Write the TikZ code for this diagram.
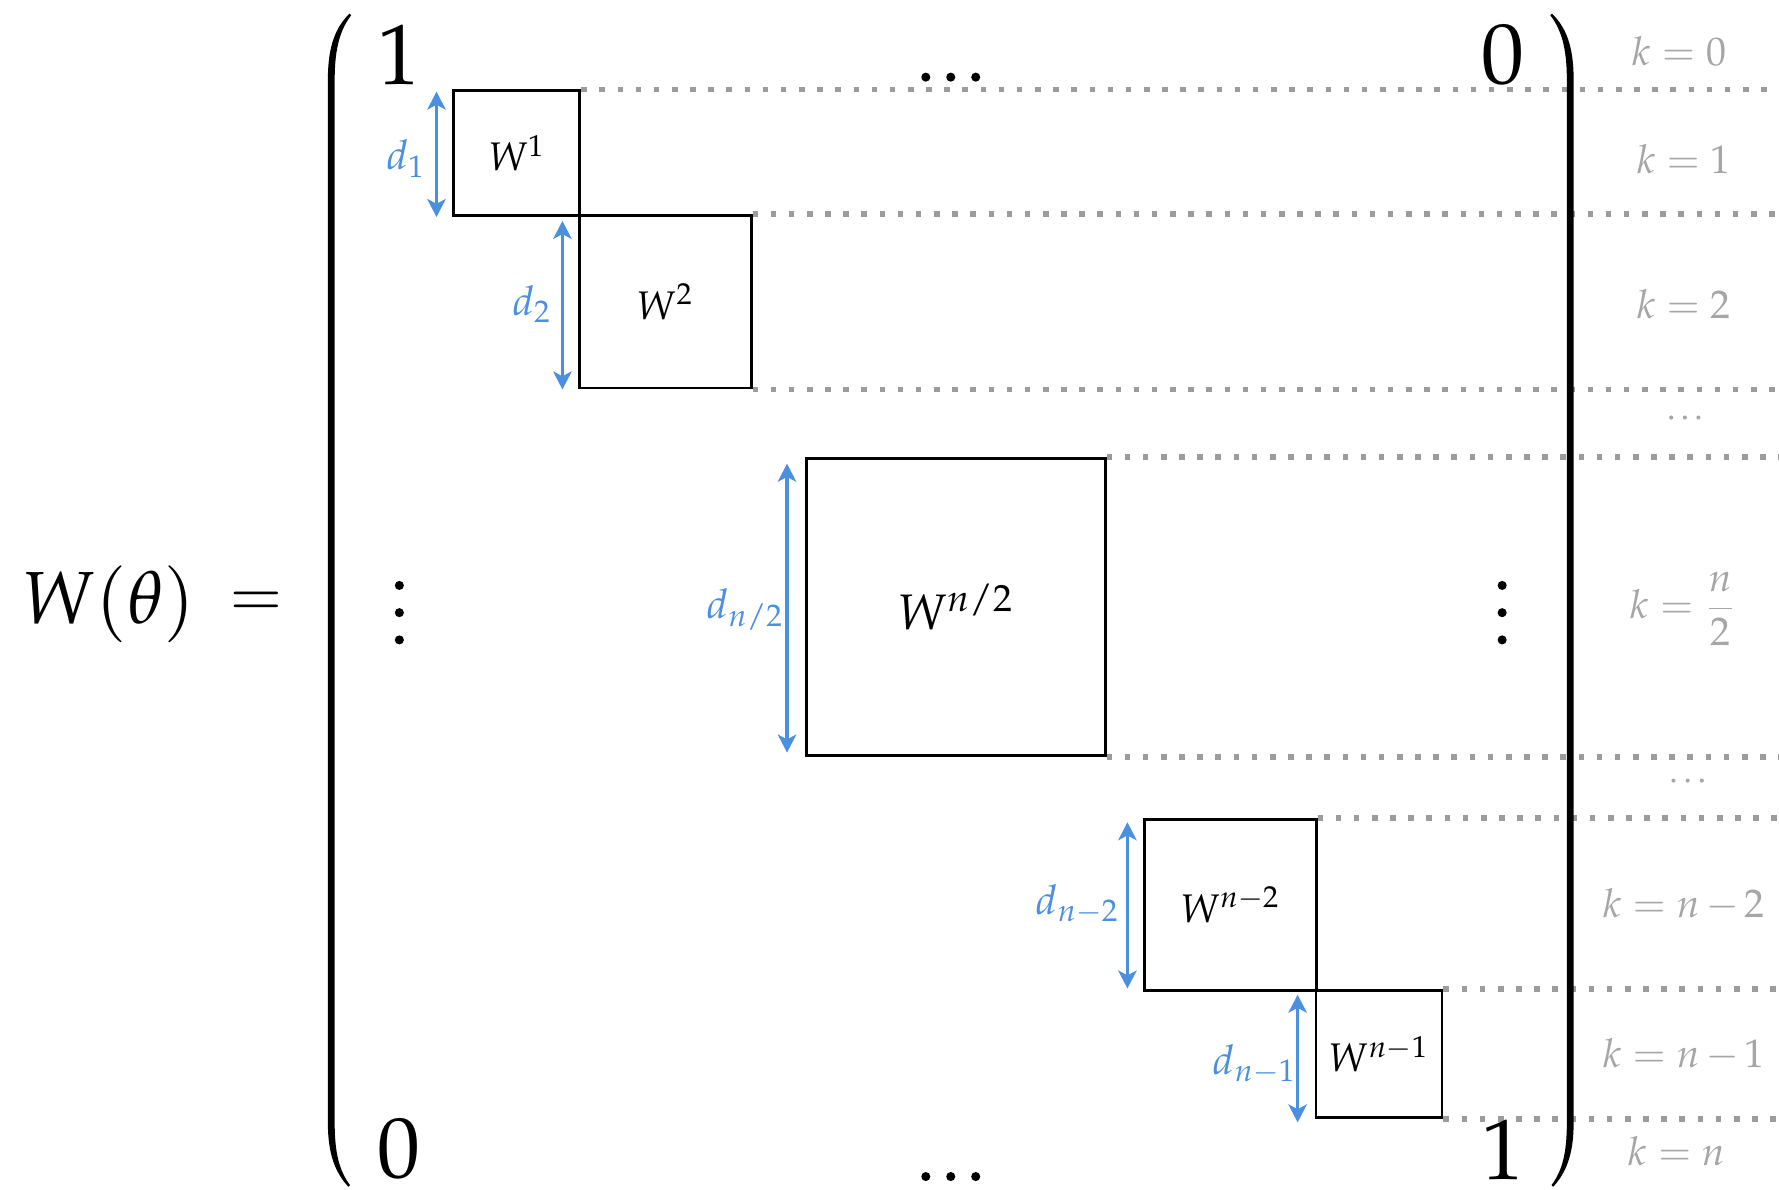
\documentclass[tikz,border=0pt]{standalone}
\usepackage{amsmath}
\usepackage{mathpazo}
\usetikzlibrary{arrows.meta}
\definecolor{dblue}{HTML}{4A8FE0}
\definecolor{dotgray}{HTML}{9C9C9C}
\definecolor{lblgray}{HTML}{A6A6A6}
\begin{document}
\begin{tikzpicture}[x=0.01cm,y=-0.01cm,
  wbox/.style={draw=black,line width=0.7pt,inner sep=0pt,font=\fontsize{10}{12}\selectfont},
  bigtxt/.style={inner sep=0pt,font=\fontsize{21.5}{25}\selectfont},
  klabel/.style={text=lblgray,inner sep=0pt,font=\fontsize{10}{12}\selectfont},
  dlabel/.style={text=dblue,inner sep=0pt,font=\fontsize{10.3}{12}\selectfont},
  dotline/.style={draw=dotgray,line width=1.4pt,dash pattern=on 1.4pt off 3.15pt},
  darrow/.style={draw=dblue,line width=0.8pt,{Stealth[length=4.5pt,width=4.6pt,inset=1.2pt]}-{Stealth[length=4.5pt,width=4.6pt,inset=1.2pt]}},
  bdot/.style={fill=black},
  gdot/.style={fill=lblgray}]
\useasboundingbox (0,0) rectangle (1568,1048);
\coordinate (edge) at (1568,0);

% blocks
\node[wbox,minimum width=1.11cm,minimum height=1.10cm] (w1) at (455.5,135) {$W^1$};
\node[wbox,minimum width=1.51cm,minimum height=1.52cm] (w2) at (586.5,266) {$W^2$};
\node[wbox,minimum width=2.63cm,minimum height=2.62cm,font=\fontsize{12.5}{15}\selectfont] (wh) at (842.5,535) {$W^{n/2}$};
\node[wbox,minimum width=1.51cm,minimum height=1.51cm] (wm2) at (1084.5,797.5) {$W^{n-2}$};
\node[wbox,minimum width=1.11cm,minimum height=1.12cm] (wm1) at (1215.5,929) {$W^{n-1}$};

% dotted guide lines
\draw[dotline] (w1.north east) -- (w1.north east -| edge);
\draw[dotline] (w2.north east) -- (w2.north east -| edge);
\draw[dotline] (w2.south east) -- (w2.south east -| edge);
\draw[dotline] (wh.north east) -- (wh.north east -| edge);
\draw[dotline] (wh.south east) -- (wh.south east -| edge);
\draw[dotline] (wm2.north east) -- (wm2.north east -| edge);
\draw[dotline] (wm1.north east) -- (wm1.north east -| edge);
\draw[dotline] (wm1.south east) -- (wm1.south east -| edge);

% dimension arrows
\draw[darrow] ([xshift=-0.14cm,yshift=-0.02cm]w1.north west) -- ([xshift=-0.14cm]w1.south west);
\draw[darrow] ([xshift=-0.14cm,yshift=-0.06cm]w2.north west) -- ([xshift=-0.14cm]w2.south west);
\draw[darrow] ([xshift=-0.16cm,yshift=-0.06cm]wh.north west) -- ([xshift=-0.16cm,yshift=0.04cm]wh.south west);
\draw[darrow] ([xshift=-0.14cm,yshift=-0.04cm]wm2.north west) -- ([xshift=-0.14cm,yshift=0.03cm]wm2.south west);
\draw[darrow] ([xshift=-0.15cm,yshift=-0.05cm]wm1.north west) -- ([xshift=-0.15cm,yshift=-0.03cm]wm1.south west);

\node[dlabel] (d1) at (358,140) {$d_1$};
\node[dlabel] (d2) at (469,268) {$d_2$};
\node[dlabel] (dh) at (657,537) {$d_{n/2}$};
\node[dlabel] (dm2) at (950,797) {$d_{n-2}$};
\node[dlabel] (dm1) at (1106,938) {$d_{n-1}$};

% brackets
\fill (308,12) .. controls (296,24) and (289,40) .. (289,70) -- (289,990)
  .. controls (289,1018) and (296,1034) .. (307,1046) -- (308.5,1044.5)
  .. controls (299,1032) and (295,1016) .. (295,990) -- (295,70)
  .. controls (295,42) and (300,26) .. (309.5,13.5) -- cycle;
\fill (1368,12) .. controls (1380,24) and (1387,40) .. (1387,70) -- (1387,990)
  .. controls (1387,1018) and (1380,1034) .. (1369,1046) -- (1367.5,1044.5)
  .. controls (1377,1032) and (1381,1016) .. (1381,990) -- (1381,70)
  .. controls (1381,42) and (1376,26) .. (1366.5,13.5) -- cycle;

% big entries
\node[bigtxt,font=\fontsize{18.5}{22}\selectfont] (lhs) at (96,533) {$W(\theta)$};
\node[bigtxt,font=\fontsize{16}{20}\selectfont] (eq) at (226,533) {$=$};
\node[bigtxt] (a11) at (352,48) {$1$};
\node[bigtxt] (a1n) at (1325,48) {$0$};
\node[bigtxt] (an1) at (352,1013) {$0$};
\node[bigtxt] (ann) at (1325,1013) {$1$};

% ellipsis dots
\foreach \x in {816,838,860} {\fill[bdot] (\x,68) circle (4); \fill[bdot] (\x,1037) circle (4);}
\foreach \y in {516,540,564} {\fill[bdot] (352,\y) circle (4); \fill[bdot] (1324,\y) circle (4);}
\foreach \x in {1473,1485,1497} {\fill[gdot] (\x,368) circle (1.8);}
\foreach \x in {1475,1487.5,1500} {\fill[gdot] (\x,688) circle (1.8);}

% k labels
\node[klabel] (k0) at (1480,45) {$k=0$};
\node[klabel] (k1) at (1484,140) {$k=1$};
\node[klabel] (k2) at (1484,268) {$k=2$};
\node[klabel] (kh) at (1484,537) {$k=\dfrac{n}{2}$};
\node[klabel] (km2) at (1484,797) {$\medmuskip=2.5mu k=n-2$};
\node[klabel] (km1) at (1484,930) {$\medmuskip=2.5mu k=n-1$};
\node[klabel] (kn) at (1478,1015) {$k=n$};
\end{tikzpicture}
\end{document}
